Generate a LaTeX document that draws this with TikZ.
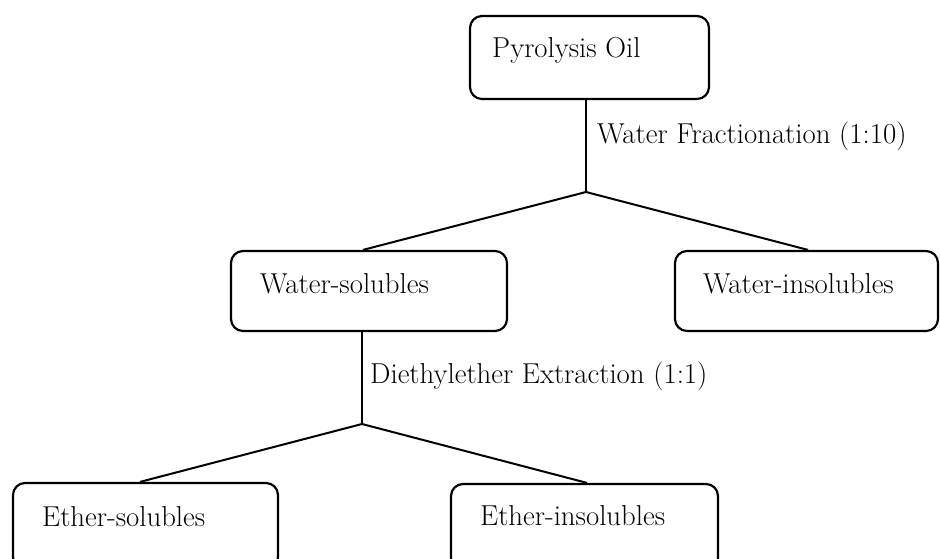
\documentclass[tikz,border=0pt]{standalone}
\begin{document}
\begin{tikzpicture}[x=1pt,y=-1pt,
  box/.style={draw, line width=2.2pt, rounded corners=12pt, inner sep=0pt},
  txt/.style={anchor=base west, inner sep=0pt, font=\fontsize{28.8}{34}\selectfont},
  conn/.style={line width=2pt}]
\clip (0,0) rectangle (940,559);
% boxes
\node[box, minimum width=239pt, minimum height=83pt] (oil) at (589.5,57.5) {};
\node[box, minimum width=276pt, minimum height=80pt] (ws) at (369,291) {};
\node[box, minimum width=263pt, minimum height=80pt] (wi) at (806.5,291) {};
\node[box, minimum width=265pt, minimum height=86pt] (es) at (145.5,526) {};
\node[box, minimum width=267pt, minimum height=86pt] (ei) at (584.5,527) {};
% texts
\node[txt] (toil) at (492,58) {Pyrolysis Oil};
\node[txt] (tws) at (260,293) {Water-solubles};
\node[txt] (twi) at (703,293) {Water-insolubles};
\node[txt] (tes) at (42,526) {Ether-solubles};
\node[txt] (tei) at (480,525) {Ether-insolubles};
\node[txt] (lab1) at (597,144) {Water Fractionation (1:10)};
\node[txt] (lab2) at (370,383) {Diethylether Extraction (1:1)};
% connectors
\coordinate (s1) at (586,192);
\coordinate (s2) at (362,424);
\draw[conn] (oil.south -| s1) -- (s1);
\draw[conn] (s1) -- ([xshift=-6pt]ws.north);
\draw[conn] (s1) -- ([xshift=1.5pt]wi.north);
\draw[conn] (ws.south -| s2) -- (s2);
\draw[conn] (s2) -- ([xshift=-5.5pt]es.north);
\draw[conn] (s2) -- ([xshift=2.5pt]ei.north);
\end{tikzpicture}
\end{document}
